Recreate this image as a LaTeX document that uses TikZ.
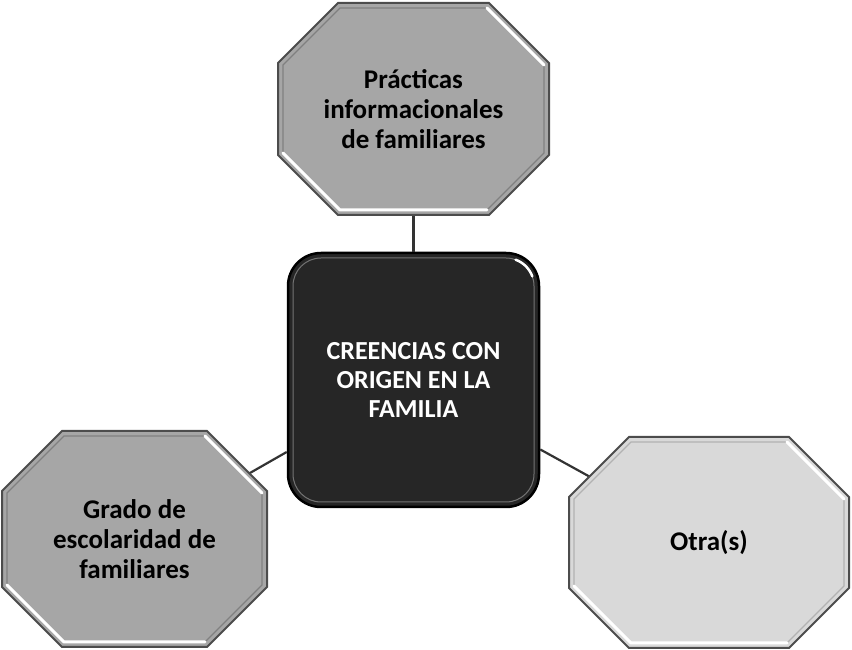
\documentclass[tikz,border=0pt]{standalone}
\usepackage{fontspec}
\setmainfont{Carlito}
\usepackage{tikz}
\usepackage{xcolor}

\begin{document}
\begin{tikzpicture}[x=1pt,y=1pt,
  every node/.style={font=\bfseries\fontsize{27}{30}\selectfont, align=center},
  conn/.style={black!80, line width=2.2pt},
  rim/.style={line width=2pt, draw=black!70},
  bevel/.style={line width=1.2pt},
  shine/.style={white, line width=3pt, line cap=round, line join=round}]
\useasboundingbox (0,0) rectangle (852,650);
\coordinate (prac) at (413.5,541);
\coordinate (grado) at (134.5,111);
\coordinate (otra) at (709,107.5);
% centre box
\node[draw=black, line width=2.5pt, fill=black!85, rounded corners=33pt,
  minimum width=251pt, minimum height=254pt, text=white,
  font=\bfseries\fontsize{26}{29}\selectfont] (ctr) at (413.5,270)
  {CREENCIAS CON\\ORIGEN EN LA\\FAMILIA};
\draw[black!55, line width=1pt, rounded corners=28pt] (293,148) rectangle (534,392);
\draw[shine, line width=2.5pt] (515.6,390.3) arc[start angle=70, end angle=20, radius=28];
% connectors
\draw[conn] (ctr) -- (prac);
\draw[conn] (ctr) -- (grado);
\draw[conn] (ctr) -- (otra);
% top octagon
\begin{scope}[shift={(prac)}]
\filldraw[rim, fill=black!35] (-75.5,106) -- (75.5,106) -- (135.5,46) -- (135.5,-46) -- (75.5,-106) -- (-75.5,-106) -- (-135.5,-46) -- (-135.5,46) -- cycle;
\draw[bevel, black!50] (-73.5,101) -- (73.5,101) -- (130.5,44) -- (130.5,-44) -- (73.5,-101) -- (-73.5,-101) -- (-130.5,-44) -- (-130.5,44) -- cycle;
\draw[shine] (73.5,101) -- (130.5,44);
\draw[shine] (-130.5,-44) -- (-73.5,-101) -- (73.5,-101);
\end{scope}
% left octagon
\begin{scope}[shift={(grado)}]
\filldraw[rim, fill=black!35] (-72.5,108) -- (72.5,108) -- (132.5,48) -- (132.5,-48) -- (72.5,-108) -- (-72.5,-108) -- (-132.5,-48) -- (-132.5,48) -- cycle;
\draw[bevel, black!50] (-70.5,103) -- (70.5,103) -- (127.5,46) -- (127.5,-46) -- (70.5,-103) -- (-70.5,-103) -- (-127.5,-46) -- (-127.5,46) -- cycle;
\draw[shine] (70.5,103) -- (127.5,46);
\draw[shine] (-127.5,-46) -- (-70.5,-103) -- (70.5,-103);
\end{scope}
% right octagon
\begin{scope}[shift={(otra)}]
\filldraw[rim, fill=black!15] (-80,105.5) -- (80,105.5) -- (140,45.5) -- (140,-45.5) -- (80,-105.5) -- (-80,-105.5) -- (-140,-45.5) -- (-140,45.5) -- cycle;
\draw[bevel, black!30] (-78,100.5) -- (78,100.5) -- (135,43.5) -- (135,-43.5) -- (78,-100.5) -- (-78,-100.5) -- (-135,-43.5) -- (-135,43.5) -- cycle;
\draw[shine] (78,100.5) -- (135,43.5);
\draw[shine] (-135,-43.5) -- (-78,-100.5) -- (78,-100.5);
\end{scope}
% labels
\node (prac-txt) at (prac) {Prácticas\\informacionales\\de familiares};
\node (grado-txt) at (grado) {Grado de\\escolaridad de\\familiares};
\node (otra-txt) at (otra) {Otra(s)};
\end{tikzpicture}
\end{document}
